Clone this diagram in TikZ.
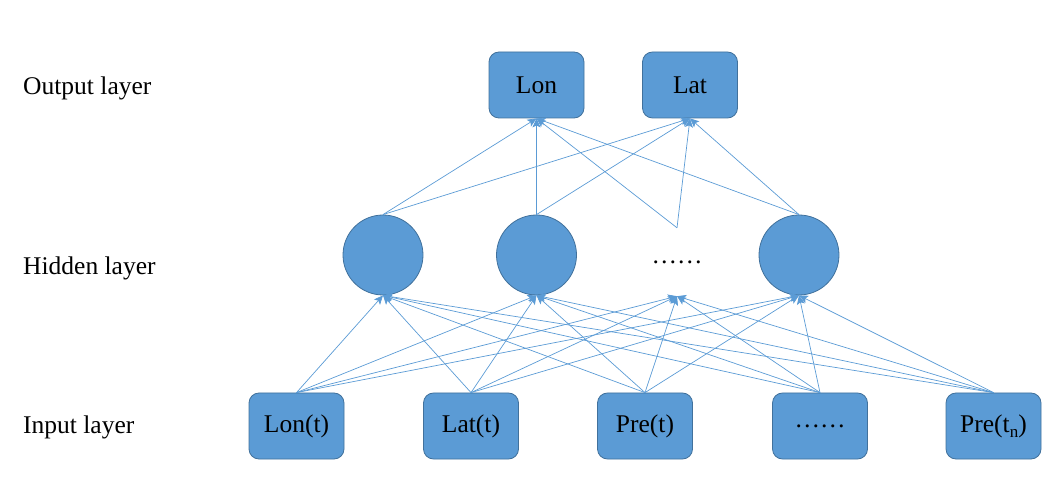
\documentclass[tikz,border=0pt]{standalone}
\usepackage{fontspec}
\setmainfont{Liberation Serif}
\usetikzlibrary{arrows.meta}
\definecolor{nnfill}{HTML}{5B9BD5}
\definecolor{nnedge}{HTML}{41719C}
\newcommand{\lowsub}[1]{\raisebox{-5.5pt}{\fontsize{17}{18}\selectfont #1}}
\begin{document}
\begin{tikzpicture}[x=1pt,y=-1pt,
  font=\fontsize{25.5}{30}\selectfont,
  unitbox/.style={draw=nnedge, fill=nnfill, line width=0.8pt, rounded corners=10pt,
    minimum width=95pt, minimum height=66pt, inner sep=0pt},
  neuron/.style={draw=nnedge, fill=nnfill, line width=0.8pt, circle,
    minimum size=80pt, inner sep=0pt},
  gapunit/.style={minimum width=80pt, minimum height=68pt, inner sep=0pt},
  layerlabel/.style={anchor=base west, inner sep=0pt},
  link/.style={draw=nnfill, line width=0.7pt, -{Stealth[length=9pt,width=8pt,inset=2pt]}},
]
\useasboundingbox (0,0) rectangle (1061,494);

% layer captions
\node[layerlabel] (capOut) at (23,95) {Output layer};
\node[layerlabel] (capHid) at (23,275) {Hidden layer};
\node[layerlabel] (capIn) at (23,434) {Input layer};

% output layer
\node[unitbox] (oLon) at (536.5,85) {Lon};
\node[unitbox] (oLat) at (690,85) {Lat};

% hidden layer
\node[neuron] (h1) at (383,255) {};
\node[neuron] (h2) at (536.5,255) {};
\node[gapunit] (h3) at (677,262) {……};
\node[neuron] (h4) at (799,255) {};

% input layer
\node[unitbox] (i1) at (296.5,426) {Lon(t)};
\node[unitbox] (i2) at (471,426) {Lat(t)};
\node[unitbox] (i3) at (645,426) {Pre(t)};
\node[unitbox] (i4) at (820,426) {……};
\node[unitbox] (i5) at (993.5,426) {Pre(t\lowsub{n})};

% full connections input -> hidden
\foreach \i in {i1,i2,i3,i4,i5}
  \foreach \h in {h1,h2,h3,h4}
    \draw[link] (\i.north) -- (\h.south);

% full connections hidden -> output
\foreach \h in {h1,h2,h3,h4}
  \foreach \o in {oLon,oLat}
    \draw[link] (\h.north) -- (\o.south);
\end{tikzpicture}
\end{document}
